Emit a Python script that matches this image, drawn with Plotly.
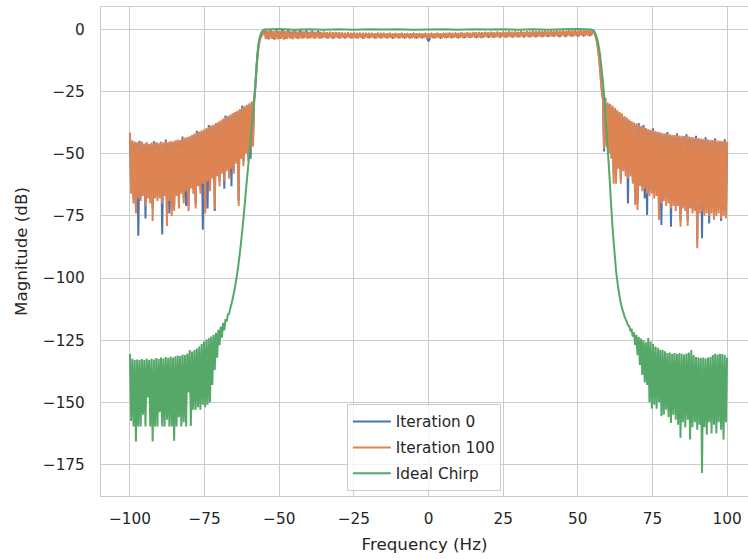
import numpy as np
import plotly.graph_objects as go

# ---- frequency response data (dB) -------------------------------------
# Stop-band samples on a 0.4 Hz grid: left  -100 .. -58.4 Hz, right 58.4 .. 100 Hz
ITER100_LEFT_DB = [
    -41.5, -66, -44.5, -70, -45, -74, -45.3, -68, -45.5, -69,
    -45, -67, -45.8, -71, -45.2, -68, -46, -70, -45.5, -77,
    -45.7, -68, -45.2, -69, -45.5, -68, -45, -70, -45.3, -67,
    -45, -79, -45.2, -69, -44.8, -75, -45, -73, -44.5, -67,
    -44.2, -72, -44.4, -66, -43.8, -70, -43.5, -65, -43.2, -73,
    -42.8, -64, -42.4, -66, -41.8, -72, -41.5, -63, -41, -66,
    -40.5, -62, -40.2, -74, -39.6, -61, -39.2, -65, -38.6, -60,
    -38.2, -72, -37.6, -59, -37, -63, -36.5, -58, -35.8, -61,
    -35.4, -57, -34.8, -60, -34.2, -56, -33.6, -58, -33.2, -54,
    -32.6, -71, -32, -52, -31.4, -55, -30.8, -50, -30.2, -53,
    -29.6, -48, -28.8, -47, -27.8,
]
ITER100_RIGHT_DB = [
    -27.3, -48, -28.2, -47, -29.3, -50, -29.8, -52, -30.6, -62,
    -31.5, -62, -32.4, -56, -33.2, -62, -33.8, -57, -34.8, -59,
    -35.4, -60, -36.2, -59, -36.8, -62, -37.4, -70.6, -37.8, -72.6,
    -38.4, -63, -38.8, -65, -39.2, -64, -39.6, -66, -40, -67,
    -40.3, -66, -40.5, -68, -40.8, -67, -41.1, -76.6, -41.3, -70,
    -41.6, -69, -41.8, -71, -42, -70, -42.1, -72, -42.3, -71,
    -42.4, -73, -42.5, -71, -42.6, -79.3, -42.7, -72, -42.8, -73,
    -42.9, -79, -43, -72, -43.2, -74, -43.3, -73, -43.5, -88,
    -43.6, -74, -43.8, -73, -44, -75, -44.1, -74, -44.2, -75,
    -44.3, -74, -44.4, -76.5, -44.5, -75, -44.6, -74, -44.7, -76,
    -44.8, -75, -44.9, -76, -45,
]
ITER0_LEFT_DB = [
    -42, -64, -45, -68, -45.6, -72, -45.9, -83, -44.7, -67,
    -45.6, -65, -46.4, -76, -45.8, -66, -46.6, -68, -46.1, -72,
    -44.9, -66, -45.8, -67, -46.1, -66, -45.6, -82.5, -45.9, -65,
    -44.2, -75, -45.8, -74, -45.4, -72, -45.6, -71, -45.1, -65,
    -44.8, -70, -45, -64, -43, -68, -44.1, -71, -43.8, -71,
    -43.4, -62, -43, -64, -42.4, -70, -40.7, -61, -41.6, -64,
    -41.1, -80.5, -40.8, -72, -40.2, -72, -38.4, -63, -39.2, -58,
    -38.8, -73, -38.2, -57, -37.6, -61, -37.1, -56, -36.4, -64,
    -34.6, -55, -35.4, -58, -34.8, -63, -34.2, -56, -33.8, -52,
    -33.2, -69, -32.6, -50, -30.6, -53, -31.4, -48, -30.8, -51,
    -30.2, -52, -29.4, -45, -28.4,
]
ITER0_RIGHT_DB = [
    -27.9, -49, -27.4, -45, -29.9, -48, -30.4, -50, -31.2, -58,
    -32.1, -59, -33, -54, -33.8, -60, -34.4, -55, -35.4, -57,
    -36, -70, -36.8, -57, -37.4, -60, -38, -67, -38.4, -70,
    -37.6, -61, -39.4, -63, -38.4, -68, -40.2, -74.6, -40.6, -65,
    -40.9, -64, -39.7, -66, -41.4, -65, -41.7, -74, -41.9, -78.6,
    -42.2, -67, -42.4, -69, -41.2, -68, -42.7, -79.3, -42.9, -69,
    -43, -71, -41.7, -69, -43.2, -77, -43.3, -70, -43.4, -71,
    -42.1, -77, -43.6, -70, -43.8, -72, -43.9, -71, -42.7, -85,
    -44.2, -72, -44.4, -84, -44.6, -73, -43.3, -72, -44.8, -78,
    -44.9, -72, -45, -74, -43.7, -73, -45.2, -72, -45.3, -77,
    -45.4, -73, -44.1, -74, -45.6,
]
IDEAL_LEFT_DB = [
    -130.5, -157.5, -132.5, -159.7, -133, -165.8, -132.8, -159.7, -133, -159.7,
    -132.6, -155, -133, -159.7, -132.4, -148, -133, -159.7, -132.5, -165.8,
    -132.8, -159.7, -132.2, -159.7, -132.6, -154, -132, -159.7, -132.4, -159.7,
    -131.8, -157, -132.2, -159.7, -131.6, -159.7, -132, -165.5, -131.5, -159.7,
    -131.2, -156, -131.4, -159.7, -130.8, -158, -131, -159.7, -130.4, -146,
    -129, -159.5, -129.6, -153, -129, -153, -128.3, -152, -127.5, -153,
    -126.5, -151, -125.5, -152, -124.7, -151, -124.1, -150, -123.5, -143,
    -122.8, -137, -122, -132, -120.8, -127, -119.5, -124, -118, -121,
    -116.5, -117.5, -114.6, -114.4, -112.2, -110.4, -108.3, -106, -103.5, -100.6,
    -97.4, -94, -90, -85.7, -81, -76.2, -71, -65.3, -60, -55,
    -50, -44.5, -38.8, -33.4, -28.6,
]
IDEAL_RIGHT_DB = [
    -20.8, -26.5, -33.7, -40.8, -48, -55, -63, -71.5, -79, -85.5,
    -91, -97, -101, -104.5, -107.5, -110, -112, -113.7, -115.2, -116.5,
    -117.5, -119, -119.3, -121, -120.8, -123.5, -121.8, -127, -122.8, -131,
    -123.6, -135, -124.3, -139, -125, -142, -125.8, -143, -124, -150,
    -125.5, -152.5, -126.5, -151, -127.5, -152.6, -128, -150, -128.8, -155.6,
    -129, -155, -129.5, -153, -130.2, -156, -130, -158.3, -130.5, -155,
    -130.2, -157, -130.6, -159, -130.2, -164.3, -130.5, -158, -130.8, -160,
    -130.4, -157, -130, -165, -128.9, -160, -131, -158, -131.8, -161,
    -132, -159, -132.2, -178.4, -132, -160, -132.4, -163, -132, -158,
    -131.8, -162.5, -131, -159, -130.5, -162.5, -130.8, -158, -130.5, -161,
    -130.6, -165, -131, -158, -132,
]

# Pass band: Iteration 100 on a 0.5 Hz grid, Iteration 0 on a 1 Hz grid (-55 .. 55 Hz)
ITER100_PASS_DB = [
    -0.4, -3.8, -0.3, -4.0, -0.4, -3.7, -0.5, -4.1, -0.4, -3.9,
    -0.5, -3.7, -0.6, -4.0, -0.5, -3.8, -0.6, -3.6, -0.7, -3.9,
    -0.6, -3.5, -0.7, -3.8, -0.8, -3.6, -0.7, -3.4, -0.8, -3.7,
    -0.9, -3.5, -0.8, -3.6, -0.9, -3.4, -1.0, -3.7, -0.9, -3.5,
    -1.0, -3.3, -1.1, -3.6, -1.0, -3.4, -1.1, -3.5, -1.2, -3.3,
    -1.1, -3.6, -1.2, -3.4, -1.3, -3.5, -1.2, -3.3, -1.3, -3.6,
    -1.2, -3.4, -1.3, -3.5, -1.4, -3.3, -1.3, -3.6, -1.4, -3.4,
    -1.3, -3.5, -1.4, -3.3, -1.5, -3.6, -1.4, -3.4, -1.3, -3.5,
    -1.4, -3.3, -1.5, -3.5, -1.4, -3.4, -1.5, -3.6, -1.4, -3.3,
    -1.5, -3.5, -1.4, -3.4, -1.5, -3.3, -1.6, -3.5, -1.5, -3.4,
    -1.4, -3.6, -1.5, -3.3, -1.6, -3.5, -1.5, -3.4, -1.4, -3.5,
    -1.5, -3.3, -1.4, -3.5, -1.5, -3.4, -1.4, -3.3, -1.5, -3.5,
    -1.4, -3.4, -1.3, -3.3, -1.4, -3.5, -1.3, -3.2, -1.4, -3.4,
    -1.3, -3.3, -1.2, -3.4, -1.3, -3.2, -1.2, -3.3, -1.3, -3.1,
    -1.2, -3.3, -1.1, -3.2, -1.2, -3.4, -1.1, -3.2, -1.2, -3.1,
    -1.1, -3.2, -1.0, -3.3, -1.1, -3.1, -1.0, -3.2, -1.1, -3.0,
    -1.0, -3.2, -0.9, -3.1, -1.0, -3.0, -0.9, -3.2, -0.9, -3.0,
    -0.9, -3.1, -0.8, -3.0, -0.9, -2.9, -0.8, -3.1, -0.8, -2.9,
    -0.8, -3.0, -0.7, -2.9, -0.8, -2.8, -0.7, -3.0, -0.7, -2.8,
    -0.7, -2.9, -0.6, -2.8, -0.6, -2.7, -0.6, -2.9, -0.5, -2.7,
    -0.5, -2.8, -0.5, -2.6, -0.4, -2.7, -0.4, -2.8, -0.4, -2.6,
    -0.4, -2.7, -0.3, -2.5, -0.3, -2.6, -0.3, -2.4, -0.3, -2.5, -0.4,
]
ITER0_PASS_DB = [
    -0.1, -3.5, -0.1, -3.6, -0.2, -3.4, -0.1, -3.5, -0.2, -3.3,
    -0.3, -3.4, -0.3, -3.3, -0.4, -3.2, -0.5, -3.3, -0.6, -3.2,
    -1.2, -3.1, -1.3, -3.2, -1.4, -3.1, -1.5, -3.2, -1.5, -3.1,
    -1.6, -3.1, -1.6, -3.2, -1.7, -3.1, -1.7, -3.2, -1.6, -3.1,
    -1.7, -3.1, -1.7, -3.2, -1.8, -3.1, -1.7, -3.2, -1.8, -3.1,
    -1.7, -3.2, -1.8, -3.1, -1.8, -4.7, -1.8, -3.1, -1.7, -3.2,
    -1.7, -3.1, -1.6, -3.0, -1.6, -3.1, -1.5, -3.0, -1.5, -2.9,
    -1.4, -3.0, -1.4, -2.9, -1.3, -2.9, -1.3, -2.8, -1.2, -2.9,
    -1.2, -2.8, -1.1, -2.8, -1.1, -2.7, -1.0, -2.8, -1.0, -2.7,
    -0.9, -2.7, -0.9, -2.6, -0.8, -2.6, -0.8, -2.5, -0.7, -2.6,
    -0.7, -2.5, -0.6, -2.4, -0.6, -2.4, -0.5, -2.3, -0.5, -2.3, -0.6,
]

# Band edges (Hz, dB)
EDGE_L_HZ = [-58.2, -58.0, -57.8, -57.6, -57.4, -57.2, -57.0, -56.8, -56.6, -56.4, -56.2, -56.0, -55.6]
ITER100_EDGE_L_DB = [-26.5, -23, -19, -15.5, -12.5, -10, -8, -6.3, -5, -4, -3.3, -2.8, -2.2]
ITER0_EDGE_L_DB = [-25.5, -22, -18, -14.5, -11.5, -9, -7, -5.5, -4.3, -3.4, -2.8, -2.3, -1.5]
EDGE_R_HZ = [55.4, 55.7, 56.0, 56.3, 56.6, 56.9, 57.2, 57.5, 57.8, 58.1]
ITER100_EDGE_R_DB = [-1.2, -2.0, -3.0, -4.5, -6.5, -9.5, -13, -17, -22, -25.5]
ITER0_EDGE_R_DB = [-1.0, -1.8, -2.7, -4.0, -5.9, -8.6, -12, -16, -21, -25]

IDEAL_MID_HZ = [-58.1, -57.8, -57.5, -57.2, -56.9, -56.5, -56.0, -55.5, -55.0, -50, -45, -40,
                -35, -30, -25, -20, -15, -10, -5, 0, 5, 10, 15, 20, 25, 30, 35, 40, 45, 50,
                54.5, 55.2, 55.6, 56.0, 56.4, 56.8, 57.2, 57.45, 57.8, 58.1]
IDEAL_MID_DB = [-24.5, -19.5, -13.5, -8.5, -5.2, -2.8, -1.2, -0.4, 0.0, 0.2, -0.1, 0.1,
                -0.1, 0.1, -0.1, 0.1, 0.0, 0.1, -0.1, 0.0, 0.1, -0.1, 0.1, 0.0, 0.1, -0.1, 0.1, -0.1, 0.1, 0.2,
                0.0, -0.3, -0.9, -1.9, -3.3, -5.4, -8.2, -10.0, -14, -17.5]

X_TICKS = [-100, -75, -50, -25, 0, 25, 50, 75, 100]
Y_TICKS = [0, -25, -50, -75, -100, -125, -150, -175]

SERIES_NAMES = ["Iteration 0", "Iteration 100", "Ideal Chirp"]
COLORS = ["#4C72B0", "#DD8452", "#55A868"]


def stop_grid(values, lo, hi):
    return np.linspace(lo, hi, len(values))


def assemble(left, mid_hz, mid_db, right):
    hz = np.concatenate([stop_grid(left, -100, -58.4), mid_hz, stop_grid(right, 58.4, 100)])
    db = np.concatenate([left, mid_db, right])
    return hz, db


def pass_grid(values):
    return np.linspace(-55, 55, len(values))


it0_hz, it0_db = assemble(
    ITER0_LEFT_DB,
    np.concatenate([EDGE_L_HZ, pass_grid(ITER0_PASS_DB), EDGE_R_HZ]),
    np.concatenate([ITER0_EDGE_L_DB, ITER0_PASS_DB, ITER0_EDGE_R_DB]),
    ITER0_RIGHT_DB,
)
it100_hz, it100_db = assemble(
    ITER100_LEFT_DB,
    np.concatenate([EDGE_L_HZ, pass_grid(ITER100_PASS_DB), EDGE_R_HZ]),
    np.concatenate([ITER100_EDGE_L_DB, ITER100_PASS_DB, ITER100_EDGE_R_DB]),
    ITER100_RIGHT_DB,
)
ideal_hz, ideal_db = assemble(IDEAL_LEFT_DB, IDEAL_MID_HZ, IDEAL_MID_DB, IDEAL_RIGHT_DB)

fig = go.Figure()
for i, (hz, db) in enumerate([(it0_hz, it0_db), (it100_hz, it100_db), (ideal_hz, ideal_db)]):
    fig.add_trace(go.Scatter(
        x=hz, y=db, mode="lines", name=SERIES_NAMES[i],
        legendgroup=SERIES_NAMES[i],
        line=dict(color=COLORS[i], width=2, simplify=False),
    ))


def minus(v):
    return str(v).replace("-", "\u2212")


axis_common = dict(
    showgrid=True, gridcolor="#cccccc", gridwidth=1,
    zeroline=False, showline=True, linecolor="#cccccc", linewidth=1.2,
    ticks="", tickfont=dict(size=15.3, color="#262626"),
)
fig.update_xaxes(
    range=[-109.7, 107.0], tickvals=X_TICKS, ticktext=[minus(v) for v in X_TICKS],
    mirror=True, ticklabelstandoff=9,
    title=dict(text="Frequency (Hz)", font=dict(size=16.7, color="#262626"), standoff=10),
    **axis_common,
)
fig.update_yaxes(
    range=[-187.7, 9.1], tickvals=Y_TICKS, ticktext=[minus(v) for v in Y_TICKS],
    mirror=False, ticklabelstandoff=12,
    title=dict(text="Magnitude (dB)", font=dict(size=16.7, color="#262626"), standoff=10),
    **axis_common,
)
fig.update_layout(
    width=748, height=559,
    margin=dict(l=101, r=0, t=7, b=63),
    paper_bgcolor="white", plot_bgcolor="white",
    font=dict(family="DejaVu Sans", color="#262626", size=15.3),
    legend=dict(
        x=0.380, y=0.188, xanchor="left", yanchor="top",
        bgcolor="rgba(255,255,255,0.8)", bordercolor="#cccccc", borderwidth=1,
        font=dict(size=15.3, color="#262626"), tracegroupgap=3, itemwidth=38,
    ),
)
fig.write_html("out.html")
